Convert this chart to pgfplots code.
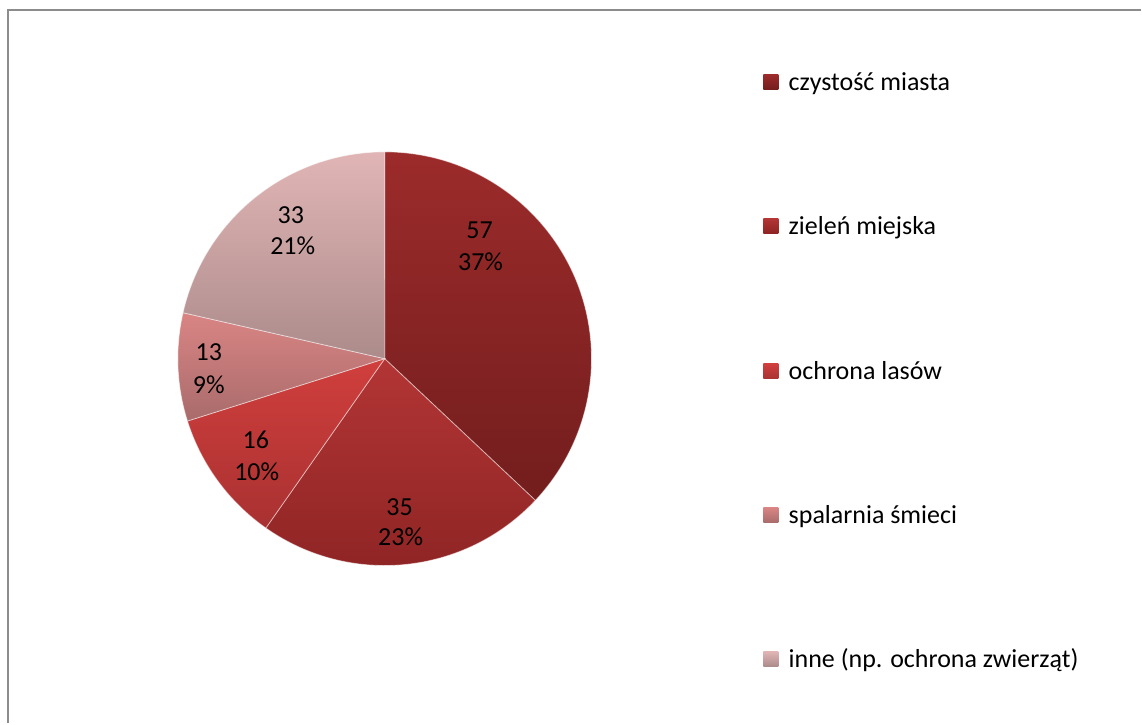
\documentclass[border=0pt]{standalone}
\usepackage{fontspec}
\setmainfont{Carlito}
\usepackage{pgfplots}
\pgfplotsset{compat=1.18}
\definecolor{cAt}{HTML}{9C2B2B}\definecolor{cAb}{HTML}{731D1D}
\definecolor{cBt}{HTML}{B33535}\definecolor{cBb}{HTML}{8C2323}
\definecolor{cCt}{HTML}{D03F3D}\definecolor{cCb}{HTML}{A93131}
\definecolor{cDt}{HTML}{D98584}\definecolor{cDb}{HTML}{A96B6B}
\definecolor{cEt}{HTML}{E1B5B5}\definecolor{cEb}{HTML}{AC8B8B}
\definecolor{frame}{HTML}{8C8C8C}
% data
\def\vA{57}\def\vB{35}\def\vC{16}\def\vD{13}\def\vE{33}
\pgfmathsetmacro\tot{\vA+\vB+\vC+\vD+\vE}
\pgfmathsetmacro\aA{90}
\pgfmathsetmacro\aB{\aA-360*(\vA/\tot)}
\pgfmathsetmacro\aC{\aB-360*(\vB/\tot)}
\pgfmathsetmacro\aD{\aC-360*(\vC/\tot)}
\pgfmathsetmacro\aE{\aD-360*(\vD/\tot)}
\pgfmathsetmacro\aF{\aE-360*(\vE/\tot)}
\def\R{103.5pt}
\begin{document}
\fontsize{13pt}{15pt}\selectfont
\begin{tikzpicture}
\begin{axis}[
  scale only axis, width=571pt, height=362pt,
  xmin=0, xmax=1142, ymin=0, ymax=724,
  hide axis, clip=false,
]
\path (axis cs:0,0) rectangle (axis cs:1142,724);
% frame
\draw[frame, line width=1pt] (axis cs:8,0) -- (axis cs:8,714) -- (axis cs:1142,714);
% slices
\shadedraw[top color=cAt, bottom color=cAb, draw=white, draw opacity=0.5, line width=0.4pt]
  (axis cs:385,365) -- ++(\aA:\R) arc[start angle=\aA, end angle=\aB, radius=\R] -- cycle;
\shadedraw[top color=cBt, bottom color=cBb, draw=white, draw opacity=0.5, line width=0.4pt]
  (axis cs:385,365) -- ++(\aB:\R) arc[start angle=\aB, end angle=\aC, radius=\R] -- cycle;
\shadedraw[top color=cCt, bottom color=cCb, draw=white, draw opacity=0.5, line width=0.4pt]
  (axis cs:385,365) -- ++(\aC:\R) arc[start angle=\aC, end angle=\aD, radius=\R] -- cycle;
\shadedraw[top color=cDt, bottom color=cDb, draw=white, draw opacity=0.5, line width=0.4pt]
  (axis cs:385,365) -- ++(\aD:\R) arc[start angle=\aD, end angle=\aE, radius=\R] -- cycle;
\shadedraw[top color=cEt, bottom color=cEb, draw=white, draw opacity=0.5, line width=0.4pt]
  (axis cs:385,365) -- ++(\aE:\R) arc[start angle=\aE, end angle=\aF, radius=\R] -- cycle;
% data labels
\node[anchor=base, inner sep=0pt] at (axis cs:480,485) {57};
\node[anchor=base, inner sep=0pt] at (axis cs:481,453) {37\%};
\node[anchor=base, inner sep=0pt] at (axis cs:400,208) {35};
\node[anchor=base, inner sep=0pt] at (axis cs:401,178) {23\%};
\node[anchor=base, inner sep=0pt] at (axis cs:256,275) {16};
\node[anchor=base, inner sep=0pt] at (axis cs:257,243) {10\%};
\node[anchor=base, inner sep=0pt] at (axis cs:209,363) {13};
\node[anchor=base, inner sep=0pt] at (axis cs:209,330) {9\%};
\node[anchor=base, inner sep=0pt] at (axis cs:291,500) {33};
\node[anchor=base, inner sep=0pt] at (axis cs:293,469) {21\%};
% legend
\shade[top color=cAt, bottom color=cAb] (axis cs:764,649) rectangle (axis cs:779,634);
\node[anchor=base west, inner sep=0pt] at (axis cs:789,633) {czystość miasta};
\shade[top color=cBt, bottom color=cBb] (axis cs:764,505) rectangle (axis cs:779,490);
\node[anchor=base west, inner sep=0pt] at (axis cs:789,489) {zieleń miejska};
\shade[top color=cCt, bottom color=cCb] (axis cs:764,360) rectangle (axis cs:779,345);
\node[anchor=base west, inner sep=0pt] at (axis cs:789,344) {ochrona lasów};
\shade[top color=cDt, bottom color=cDb] (axis cs:764,216) rectangle (axis cs:779,201);
\node[anchor=base west, inner sep=0pt] at (axis cs:789,200) {spalarnia śmieci};
\shade[top color=cEt, bottom color=cEb] (axis cs:764,72) rectangle (axis cs:779,57);
\node[anchor=base west, inner sep=0pt] at (axis cs:789,56) {inne (np. ochrona zwierząt)};
\end{axis}
\end{tikzpicture}
\end{document}
